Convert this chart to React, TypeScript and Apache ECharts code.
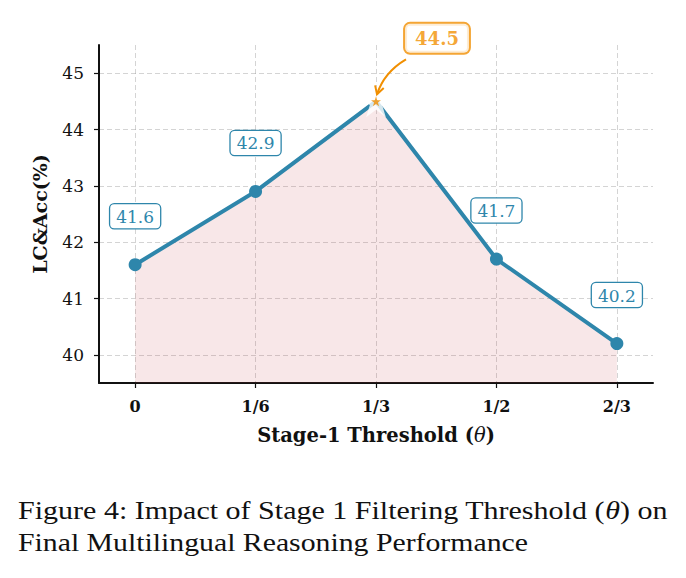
import React, { useEffect, useRef } from "react";
import * as echarts from "echarts";

// Stage-1 filtering thresholds and the resulting LC&Acc scores
const categories = ["0", "1/6", "1/3", "1/2", "2/3"];
const scores = [41.6, 42.9, 44.5, 41.7, 40.2];
const yTicks = [40, 41, 42, 43, 44, 45];
const xTicks = [0, 1, 2, 3, 4];

const BLUE = "#2E86AB";
const ORANGE = "#F18F01";
const SERIF = "DejaVu Serif";

const STAR =
  "path://M50,0 L61.2,34.5 L97.6,34.5 L68.2,55.9 L79.4,90.5 L50,69.1 L20.6,90.5 L31.8,55.9 L2.4,34.5 L38.8,34.5 Z";

export default function App() {
  const ref = useRef<HTMLDivElement>(null);

  useEffect(() => {
    if (!ref.current) return;
    const chart = echarts.init(ref.current, undefined, { renderer: "svg" });
    const peakIndex = scores.indexOf(Math.max(...scores));
    const peak = [peakIndex, scores[peakIndex]];

    const gridLine = {
      show: true,
      lineStyle: { color: "rgba(160,160,160,0.45)", width: 1, type: [5, 3] },
    };

    chart.setOption({
      animation: false,
      backgroundColor: "#ffffff",
      grid: { left: 99, top: 45, right: 33, bottom: 195 },
      xAxis: {
        type: "value",
        min: -0.3,
        max: 4.3,
        name: "{b|Stage-1 Threshold (}{i|θ}{b|)}",
        nameLocation: "middle",
        nameGap: 42,
        nameTextStyle: {
          rich: {
            b: { fontFamily: SERIF, fontWeight: "bold", fontSize: 19.5, color: "#111" },
            i: { fontFamily: SERIF, fontStyle: "italic", fontSize: 19.5, color: "#111" },
          },
        },
        axisLine: { show: true, onZero: false, lineStyle: { color: "#111", width: 2 } },
        axisTick: { show: true, length: 5, customValues: xTicks, lineStyle: { color: "#111", width: 1.2 } },
        axisLabel: {
          customValues: xTicks,
          margin: 15,
          fontFamily: SERIF,
          fontWeight: "bold",
          fontSize: 16,
          color: "#111",
          formatter: (v: number) => categories[Math.round(v)] ?? "",
        },
        splitLine: gridLine,
      },
      yAxis: {
        type: "value",
        min: 39.5,
        max: 45.5,
        name: "LC&Acc(%)",
        nameLocation: "middle",
        nameGap: 50,
        nameTextStyle: { fontFamily: SERIF, fontWeight: "bold", fontSize: 19, color: "#111" },
        axisLine: { show: true, onZero: false, lineStyle: { color: "#111", width: 2 } },
        axisTick: { show: true, length: 5, customValues: yTicks, lineStyle: { color: "#111", width: 1.2 } },
        axisLabel: {
          customValues: yTicks,
          margin: 15,
          fontFamily: SERIF,
          fontSize: 17,
          color: "#111",
          formatter: (v: number) => String(v),
        },
        splitLine: gridLine,
      },
      series: [
        {
          type: "line",
          data: scores.map((v, i) =>
            i === peakIndex
              ? { value: [i, v], symbol: "none", label: { show: false } }
              : { value: [i, v] }
          ),
          symbol: "circle",
          symbolSize: 13,
          z: 2,
          lineStyle: { color: BLUE, width: 4 },
          itemStyle: { color: BLUE },
          areaStyle: { color: "rgba(200,60,75,0.18)", origin: "start" },
          label: {
            show: true,
            position: "top",
            distance: 30,
            formatter: (p: any) => p.value[1].toFixed(1),
            fontFamily: SERIF,
            fontSize: 17,
            color: BLUE,
            backgroundColor: "#ffffff",
            borderColor: BLUE,
            borderWidth: 1.3,
            borderRadius: 4,
            padding: [4, 6, 3, 6],
          },
        },
        {
          type: "scatter",
          data: [peak],
          symbol: STAR,
          symbolSize: 32,
          z: 3,
          itemStyle: { color: "#ffffff" },
          silent: true,
        },
        {
          type: "scatter",
          data: [peak],
          symbol: STAR,
          symbolSize: 10,
          z: 4,
          itemStyle: { color: ORANGE },
          label: {
            show: true,
            position: "inside",
            offset: [61, -63],
            formatter: (p: any) => p.value[1].toFixed(1),
            fontFamily: SERIF,
            fontWeight: "bold",
            fontSize: 18,
            color: ORANGE,
            backgroundColor: "#ffffff",
            borderColor: ORANGE,
            borderWidth: 2,
            borderRadius: 5,
            padding: [6, 10, 5, 10],
          },
        },
      ],
    });

    // curved annotation arrow from the peak label down to the star
    const p = chart.convertToPixel({ gridIndex: 0 }, peak) as number[];
    const start = [p[0] + 30, p[1] - 42];
    const ctrl = [p[0] + 8, p[1] - 29];
    const end = [p[0] + 1, p[1] - 7];
    const dx = end[0] - ctrl[0];
    const dy = end[1] - ctrl[1];
    const len = Math.hypot(dx, dy);
    const ux = dx / len;
    const uy = dy / len;
    const headLen = 8;
    const headW = 4.5;
    const base = [end[0] - ux * headLen, end[1] - uy * headLen];
    const left = [base[0] - uy * headW, base[1] + ux * headW];
    const right = [base[0] + uy * headW, base[1] - ux * headW];

    const captionFont = {
      fontFamily: "Liberation Serif",
      fontSize: 26,
      fill: "#111",
    };

    chart.setOption({
      graphic: [
        {
          type: "bezierCurve",
          z: 10,
          shape: { x1: start[0], y1: start[1], x2: end[0], y2: end[1], cpx1: ctrl[0], cpy1: ctrl[1] },
          style: { stroke: ORANGE, lineWidth: 2, fill: "none" },
        },
        {
          type: "polyline",
          z: 10,
          shape: { points: [left, end, right] },
          style: { stroke: ORANGE, lineWidth: 2, fill: "none" },
        },
        // figure caption below the plot
        {
          type: "text",
          x: 18,
          y: 497,
          scaleX: 1.155,
          style: {
            ...captionFont,
            text: "{n|Figure 4: Impact of Stage 1 Filtering Threshold (}{i|θ}{n|) on}",
            rich: {
              n: { ...captionFont },
              i: { ...captionFont, fontStyle: "italic" },
            },
          },
        },
        {
          type: "text",
          x: 18,
          y: 529,
          scaleX: 1.145,
          style: {
            ...captionFont,
            text: "Final Multilingual Reasoning Performance",
          },
        },
      ],
    });

    return () => chart.dispose();
  }, []);

  return (
    <div
      ref={ref}
      style={{ position: "fixed", left: 0, top: 0, width: 686, height: 578, background: "#fff" }}
    />
  );
}
